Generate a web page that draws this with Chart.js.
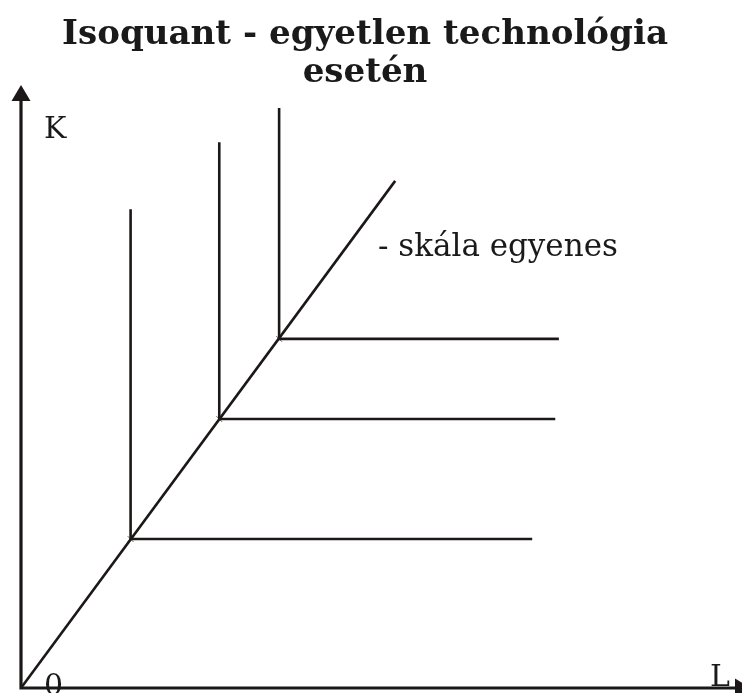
<!DOCTYPE html>
<html lang="hu">
<head>
<meta charset="utf-8">
<title>Isoquant - egyetlen technológia esetén</title>
<script src="https://cdn.jsdelivr.net/npm/chart.js@4.4.1/dist/chart.umd.min.js"></script>
<style>
  html, body { margin: 0; padding: 0; background: #ffffff; }
  canvas { display: block; }
</style>
</head>
<body>
<canvas id="isoquant" width="742" height="693"></canvas>
<script>
// corner points of the three L-shaped isoquants (on the scale line)
const cornerL = [1.52, 2.75, 3.58];
const cornerK = [2.47, 4.46, 5.79];
// how far each isoquant arm reaches
const armTopK = [7.94, 9.05, 9.62];
const armEndL = [7.09, 7.41, 7.46];
// scale line (skála egyenes) from the origin
const rayL = [0, 5.19];
const rayK = [0, 8.41];

const titleLines = ["Isoquant - egyetlen technológia", "esetén"];
const rayLabel = "- skála egyenes";

const ink = "#1c1817";
const serif = "'DejaVu Serif', 'Liberation Serif', serif";

function fitSize(ctx, text, weight, width) {
  ctx.font = weight + " 100px " + serif;
  return 100 * width / ctx.measureText(text).width;
}

const isoquantSets = cornerL.map((l, i) => ({
  data: [
    { x: l, y: armTopK[i] },
    { x: l, y: cornerK[i] },
    { x: armEndL[i], y: cornerK[i] }
  ],
  showLine: true,
  borderColor: ink,
  borderWidth: 2.6,
  pointRadius: 0,
  tension: 0
}));

const raySet = {
  data: rayL.map((l, i) => ({ x: l, y: rayK[i] })),
  showLine: true,
  borderColor: ink,
  borderWidth: 2.6,
  pointRadius: 0
};

const cornerSet = {
  data: cornerL.map((l, i) => ({ x: l, y: cornerK[i] })),
  showLine: false,
  pointStyle: "crossRot",
  pointRadius: 4,
  pointBorderWidth: 1,
  pointBorderColor: "#555"
};

// axes with arrow heads, labels and the title
const decorations = {
  id: "decorations",
  afterDatasetsDraw(chart) {
    const ctx = chart.ctx;
    const xs = chart.scales.x, ys = chart.scales.y;
    const x0 = xs.getPixelForValue(0), y0 = ys.getPixelForValue(0);
    const xEnd = xs.getPixelForValue(xs.max), yEnd = ys.getPixelForValue(ys.max);

    ctx.save();
    ctx.strokeStyle = ink;
    ctx.fillStyle = ink;
    ctx.lineWidth = 3.2;
    ctx.lineCap = "butt";

    ctx.beginPath();
    ctx.moveTo(x0, y0 + 1.6);
    ctx.lineTo(x0, yEnd + 14);
    ctx.moveTo(x0 - 1.6, y0);
    ctx.lineTo(xEnd - 6, y0);
    ctx.stroke();

    // arrow heads
    ctx.beginPath();
    ctx.moveTo(x0, yEnd);
    ctx.lineTo(x0 - 9.5, yEnd + 16);
    ctx.lineTo(x0 + 9.5, yEnd + 16);
    ctx.closePath();
    ctx.fill();
    ctx.beginPath();
    ctx.moveTo(xEnd + 9, y0);
    ctx.lineTo(xEnd - 7, y0 - 9.5);
    ctx.lineTo(xEnd - 7, y0 + 9.5);
    ctx.closePath();
    ctx.fill();

    // axis letters
    ctx.fillStyle = "#1a1a1a";
    ctx.textBaseline = "alphabetic";
    ctx.textAlign = "left";
    ctx.font = "30px " + serif;
    ctx.fillText("K", 44, 138);
    ctx.fillText("L", 710, 686);
    ctx.fillText("0", 44, 695);

    // scale line label
    ctx.font = fitSize(ctx, rayLabel, "normal", 240) + "px " + serif;
    ctx.fillText(rayLabel, 378, 256);

    // title
    ctx.textAlign = "center";
    const size = fitSize(ctx, titleLines[0], "bold", 606);
    ctx.font = "bold " + size + "px " + serif;
    ctx.fillText(titleLines[0], 365, 44);
    ctx.fillText(titleLines[1], 365, 82);
    ctx.restore();
  }
};

new Chart(document.getElementById("isoquant"), {
  type: "scatter",
  data: { datasets: [...isoquantSets, raySet, cornerSet] },
  options: {
    responsive: false,
    animation: false,
    layout: { autoPadding: false, padding: { left: 21, top: 85, right: 0, bottom: 5 } },
    clip: false,
    scales: {
      x: { type: "linear", min: 0, max: 10, display: false },
      y: { type: "linear", min: 0, max: 10, display: false }
    },
    plugins: {
      legend: { display: false },
      tooltip: { enabled: false },
      title: { display: false }
    }
  },
  plugins: [decorations]
});
</script>
</body>
</html>
